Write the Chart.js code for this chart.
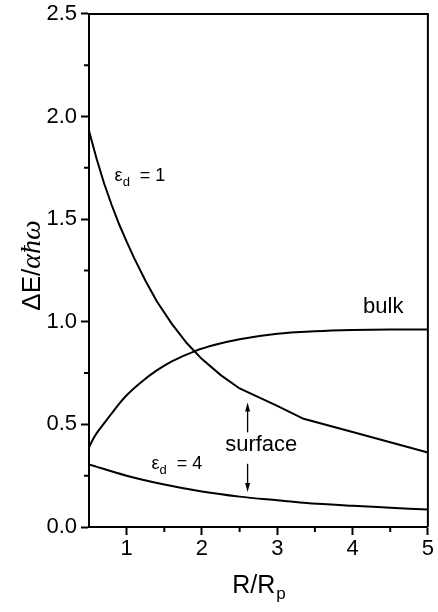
<!DOCTYPE html>
<html>
<head>
<meta charset="utf-8">
<script src="https://cdn.jsdelivr.net/npm/chart.js@4.4.1/dist/chart.umd.min.js"></script>
<style>
html, body { margin: 0; padding: 0; background: #fff; }
#wrap { width: 438px; height: 612px; }
</style>
</head>
<body>
<div id="wrap"><canvas id="chart" width="438" height="612"></canvas></div>
<script>
// surface mode, eps_d = 1
const xEps1 = [0.5, 0.6, 0.7, 0.8, 0.9, 1.0, 1.1, 1.25, 1.4, 1.6, 1.8, 2.0, 2.25, 2.5, 3.0, 3.35, 4.0, 4.5, 5.0];
const yEps1 = [1.93, 1.795, 1.675, 1.57, 1.475, 1.39, 1.31, 1.2, 1.1, 0.99, 0.895, 0.818, 0.74, 0.675, 0.59, 0.527, 0.463, 0.413, 0.363];

// bulk mode
const xBulk = [0.5, 0.55, 0.6, 0.7, 0.8, 0.9, 1.0, 1.2, 1.4, 1.6, 1.9, 2.2, 2.5, 3.0, 3.5, 4.0, 4.5, 5.0];
const yBulk = [0.388, 0.425, 0.456, 0.505, 0.553, 0.60, 0.642, 0.708, 0.763, 0.807, 0.856, 0.89, 0.915, 0.942, 0.954, 0.96, 0.962, 0.962];

// surface mode, eps_d = 4
const xEps4 = [0.5, 1.0, 1.5, 2.0, 2.5, 3.0, 3.35, 4.0, 4.5, 5.0];
const yEps4 = [0.305, 0.25, 0.207, 0.173, 0.148, 0.13, 0.118, 0.103, 0.094, 0.085];

const xTicks = [1, 2, 3, 4, 5];
const yTicks = [0, 0.5, 1.0, 1.5, 2.0, 2.5];
const xMinor = [1.5, 2.5, 3.5, 4.5];
const yMinor = [0.25, 0.75, 1.25, 1.75, 2.25];

const INK = '#000';
const SANS = "'Liberation Sans', Arial, Helvetica, sans-serif";
const SERIF = "'Liberation Serif', 'DejaVu Serif', serif";

function pts(xs, ys) {
  return xs.map((x, i) => ({ x, y: ys[i] }));
}

function curve(xs, ys, mode) {
  return {
    data: pts(xs, ys),
    showLine: true,
    borderColor: '#000',
    borderWidth: 2,
    pointRadius: 0,
    cubicInterpolationMode: mode,
    tension: 0,
  };
}

function drawEps(ctx, x, y, sub, rest) {
  ctx.textAlign = 'left';
  ctx.font = `18px ${SANS}`;
  ctx.fillText('ε', x, y);
  let w = ctx.measureText('ε').width;
  ctx.font = `13px ${SANS}`;
  ctx.fillText(sub, x + w, y + 5);
  w += ctx.measureText(sub).width;
  ctx.font = `18px ${SANS}`;
  ctx.fillText(rest, x + w + 10, y);
}

function arrow(ctx, x, y0, y1) {
  const dir = Math.sign(y1 - y0);
  ctx.lineWidth = 1.3;
  ctx.beginPath();
  ctx.moveTo(x, y0);
  ctx.lineTo(x, y1 - dir * 6);
  ctx.stroke();
  ctx.beginPath();
  ctx.moveTo(x, y1);
  ctx.lineTo(x - 2.5, y1 - dir * 9);
  ctx.lineTo(x + 2.5, y1 - dir * 9);
  ctx.closePath();
  ctx.fill();
}

const decor = {
  id: 'decor',
  afterDraw(chart) {
    const { ctx, chartArea: a, scales: { x, y } } = chart;
    ctx.save();
    ctx.strokeStyle = '#000';
    ctx.fillStyle = INK;

    // top and right frame
    ctx.lineWidth = 2;
    ctx.beginPath();
    ctx.moveTo(a.left, a.top);
    ctx.lineTo(a.right, a.top);
    ctx.lineTo(a.right, a.bottom);
    ctx.stroke();

    // minor ticks
    ctx.beginPath();
    xMinor.forEach((v) => {
      const px = x.getPixelForValue(v);
      ctx.moveTo(px, a.bottom);
      ctx.lineTo(px, a.bottom + 5);
    });
    yMinor.forEach((v) => {
      const py = y.getPixelForValue(v);
      ctx.moveTo(a.left, py);
      ctx.lineTo(a.left - 5, py);
    });
    ctx.stroke();

    // curve labels
    ctx.textBaseline = 'alphabetic';
    drawEps(ctx, x.getPixelForValue(0.84), y.getPixelForValue(1.688), 'd', '= 1');
    drawEps(ctx, x.getPixelForValue(1.33), y.getPixelForValue(0.284), 'd', '= 4');
    ctx.font = `22px ${SANS}`;
    ctx.textAlign = 'left';
    ctx.fillText('bulk', x.getPixelForValue(4.14), y.getPixelForValue(1.041));
    ctx.textAlign = 'center';
    ctx.fillText('surface', x.getPixelForValue(2.787), y.getPixelForValue(0.372));

    const ax = x.getPixelForValue(2.606);
    arrow(ctx, ax, y.getPixelForValue(0.461), y.getPixelForValue(0.606));
    arrow(ctx, ax, y.getPixelForValue(0.308), y.getPixelForValue(0.171));

    // x title R/Rp
    ctx.textAlign = 'left';
    ctx.font = `25px ${SANS}`;
    const main = 'R/R';
    const wMain = ctx.measureText(main).width;
    ctx.font = `17px ${SANS}`;
    const wSub = ctx.measureText('p').width;
    const tx = (a.left + a.right) / 2 - (wMain + wSub) / 2;
    ctx.font = `25px ${SANS}`;
    ctx.fillText(main, tx, 593);
    ctx.font = `17px ${SANS}`;
    ctx.fillText('p', tx + wMain + 1, 599);

    // y title ΔE/αħω
    ctx.translate(40, (a.top + a.bottom) / 2 - 5);
    ctx.rotate(-Math.PI / 2);
    const parts = [['ΔE/', `26px ${SANS}`], ['αħω', `italic 28px ${SERIF}`]];
    let total = 0;
    parts.forEach(([t, f]) => { ctx.font = f; total += ctx.measureText(t).width; });
    let px = -total / 2;
    parts.forEach(([t, f]) => {
      ctx.font = f;
      ctx.fillText(t, px, 0);
      px += ctx.measureText(t).width;
    });
    ctx.restore();
  },
};

function axisOpts(min, max, ticks, fmt, fitKey, fitVal) {
  return {
    type: 'linear',
    min,
    max,
    border: { display: true, color: '#000', width: 2 },
    grid: { drawOnChartArea: false, drawTicks: true, tickLength: 8, tickWidth: 2, tickColor: '#000' },
    afterBuildTicks: (s) => { s.ticks = ticks.map((v) => ({ value: v })); },
    afterFit: (s) => { s[fitKey] = fitVal; },
    ticks: {
      color: INK,
      padding: 4,
      maxRotation: 0,
      autoSkip: false,
      font: { family: SANS, size: 22, lineHeight: 0.9 },
      callback: fmt,
    },
  };
}

new Chart(document.getElementById('chart'), {
  type: 'scatter',
  data: {
    datasets: [
      curve(xEps1, yEps1, 'default'),
      curve(xBulk, yBulk, 'monotone'),
      curve(xEps4, yEps4, 'monotone'),
    ],
  },
  options: {
    responsive: false,
    animation: false,
    layout: { padding: { top: 10, right: 9, left: 0, bottom: 0 } },
    plugins: { legend: { display: false }, tooltip: { enabled: false } },
    scales: {
      x: axisOpts(0.5, 5, xTicks, (v) => String(v), 'height', 85),
      y: axisOpts(0, 2.5, yTicks, (v) => Number(v).toFixed(1), 'width', 89),
    },
  },
  plugins: [decor],
});
</script>
</body>
</html>
